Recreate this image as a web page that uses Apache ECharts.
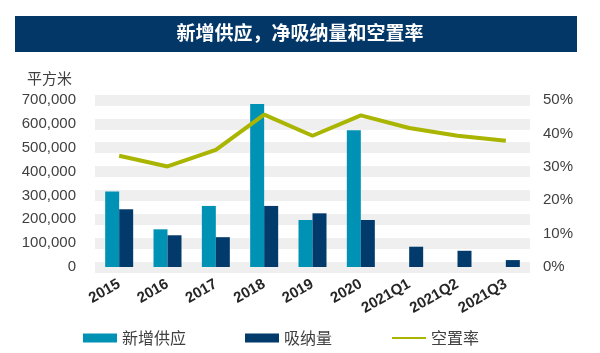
<!DOCTYPE html>
<html>
<head>
<meta charset="utf-8">
<script src="https://cdn.jsdelivr.net/npm/echarts@6/dist/echarts.min.js"></script>
<style>
  html, body { margin: 0; padding: 0; background: #fff; }
  #main { width: 600px; height: 353px; }
</style>
</head>
<body>
<div id="main"></div>
<script>
// 数据
var categories = ['2015', '2016', '2017', '2018', '2019', '2020', '2021Q1', '2021Q2', '2021Q3']
var supply = [316000, 158000, 256000, 683000, 197000, 573000, null, null, null]
var absorption = [242000, 133000, 125000, 256000, 225000, 197000, 85000, 68000, 29000]
var vacancy = [33.3, 30.1, 35.1, 45.6, 39.3, 45.4, 41.6, 39.3, 37.8]

var font = '"Liberation Sans", Arial, "Noto Sans CJK SC", sans-serif'

var myChart = echarts.init(document.getElementById('main'))

var option = {
  backgroundColor: '#fff',
  animation: false,
  textStyle: { fontFamily: font },
  graphic: [
    {
      type: 'rect',
      left: 15, top: 16,
      shape: { width: 562, height: 36 },
      style: { fill: '#033768' }
    },
    {
      type: 'text',
      left: 'center', top: 23,
      style: {
        text: '新增供应，净吸纳量和空置率',
        fill: '#fff',
        font: 'bold 19px "Noto Sans CJK SC", sans-serif'
      }
    },
    {
      type: 'text',
      left: 27, top: 71,
      style: {
        text: '平方米',
        fill: '#404040',
        font: '15px "Noto Sans CJK SC", sans-serif'
      }
    }
  ],
  grid: { left: 95, right: 70, top: 100, bottom: 86 },
  legend: {
    left: 78, top: 325,
    itemWidth: 34, itemHeight: 9, itemGap: 59,
    textStyle: { fontSize: 16, color: '#404040', fontFamily: '"Noto Sans CJK SC", sans-serif' },
    data: [
      { name: '新增供应', icon: 'rect' },
      { name: '吸纳量', icon: 'rect' },
      { name: '空置率', itemStyle: { opacity: 0 } }
    ]
  },
  xAxis: {
    type: 'category',
    data: categories,
    axisLine: { show: false },
    axisTick: { show: false },
    axisLabel: {
      rotate: 30, margin: 16, interval: 0,
      color: '#262626', fontWeight: 'bold', fontSize: 15
    }
  },
  yAxis: [
    {
      type: 'value', min: 0, max: 700000, interval: 100000,
      axisLine: { show: false },
      axisTick: { show: false },
      axisLabel: {
        color: '#404040', fontSize: 15, margin: 19,
        formatter: function (v) { return v.toLocaleString('en-US') }
      },
      splitLine: { lineStyle: { color: '#efefef', width: 11 } }
    },
    {
      type: 'value', min: 0, max: 50, interval: 10,
      axisLine: { show: false },
      axisTick: { show: false },
      axisLabel: { color: '#404040', fontSize: 15, margin: 13, formatter: '{value}%' },
      splitLine: { show: false }
    }
  ],
  series: [
    {
      name: '新增供应', type: 'bar', data: supply,
      barWidth: 14, barGap: '0%',
      itemStyle: { color: '#0092b4' }
    },
    {
      name: '吸纳量', type: 'bar', data: absorption,
      barWidth: 14,
      itemStyle: { color: '#023a6c' }
    },
    {
      name: '空置率', type: 'line', yAxisIndex: 1, data: vacancy,
      symbol: 'none',
      lineStyle: { color: '#a9b500', width: 4 },
      itemStyle: { color: '#a9b500' }
    }
  ]
}
myChart.setOption(option)
</script>
</body>
</html>
